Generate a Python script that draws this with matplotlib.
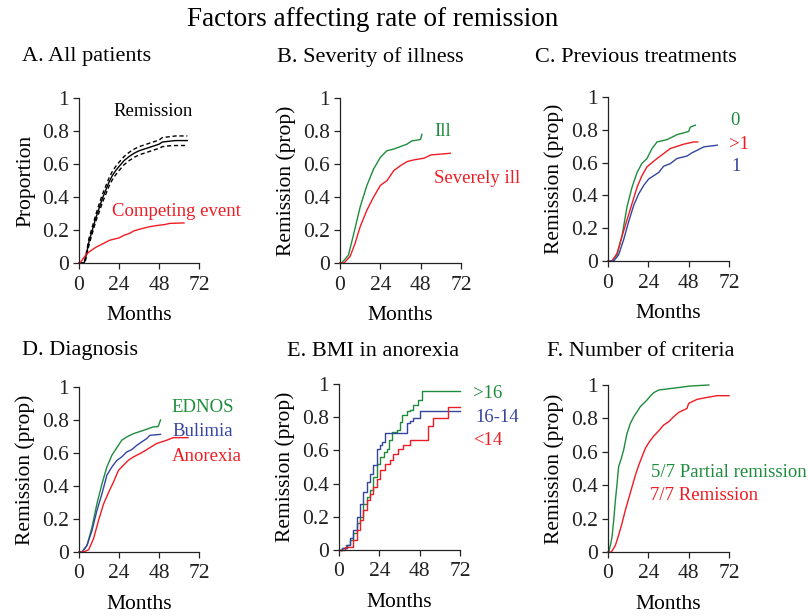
import matplotlib
matplotlib.use("Agg")
import matplotlib.pyplot as plt

plt.rcParams['font.family'] = ['Liberation Serif', 'DejaVu Serif']

GREEN = '#1e8c3c'
RED = '#ee1c24'
BLUE = '#34459e'
BLACK = '#000000'

# ---------------- data (months, cumulative proportion) ----------------
# A. All patients
a_rem_t = [0, 3, 4, 6, 8, 10, 12, 14, 16, 18, 20, 22, 24, 27, 30, 33, 36, 39, 42, 45, 48, 50, 54, 58, 65]
a_rem_y = [0, 0, 0.03, 0.13, 0.20, 0.27, 0.33, 0.39, 0.44, 0.49, 0.53, 0.56, 0.585, 0.62, 0.645, 0.665, 0.68, 0.69, 0.70, 0.71, 0.72, 0.733, 0.738, 0.742, 0.742]
a_up_y = [0, 0, 0.04, 0.15, 0.22, 0.29, 0.355, 0.415, 0.465, 0.515, 0.555, 0.585, 0.61, 0.645, 0.67, 0.69, 0.705, 0.715, 0.725, 0.735, 0.745, 0.76, 0.765, 0.77, 0.77]
a_lo_y = [0, 0, 0.02, 0.11, 0.18, 0.25, 0.305, 0.365, 0.415, 0.465, 0.505, 0.535, 0.56, 0.595, 0.62, 0.64, 0.655, 0.665, 0.675, 0.685, 0.695, 0.705, 0.71, 0.712, 0.712]
a_comp_t = [0, 1, 2.4, 4.8, 7.4, 10.4, 14, 18.4, 24, 27, 30.4, 33, 36.4, 42.4, 48, 51, 54.4, 63]
a_comp_y = [0, 0.005, 0.026, 0.057, 0.077, 0.097, 0.115, 0.138, 0.152, 0.168, 0.18, 0.195, 0.205, 0.22, 0.229, 0.232, 0.24, 0.243]

# B. Severity of illness
b_ill_t = [0, 1, 5, 8, 12, 16, 20, 24, 27.8, 31.8, 35.8, 39.8, 42.7, 46.7, 48, 48.7]
b_ill_y = [0, 0, 0.047, 0.17, 0.34, 0.47, 0.57, 0.64, 0.68, 0.69, 0.705, 0.72, 0.74, 0.746, 0.75, 0.78]
b_sev_t = [0, 2.4, 6, 9, 12, 16, 20, 24, 28, 32, 36, 40, 44, 50, 54, 60, 65.6]
b_sev_y = [0, 0, 0.04, 0.12, 0.22, 0.32, 0.40, 0.47, 0.50, 0.56, 0.59, 0.615, 0.625, 0.635, 0.655, 0.66, 0.665]

# C. Previous treatments
c_0_t = [0, 2.4, 5.4, 8.3, 11.3, 14.3, 17.3, 20.2, 23.2, 26.2, 29.2, 35.1, 41, 47, 48, 49, 52]
c_0_y = [0, 0, 0.04, 0.15, 0.33, 0.45, 0.54, 0.595, 0.625, 0.686, 0.726, 0.74, 0.77, 0.787, 0.79, 0.817, 0.828]
c_g1_t = [0, 2.4, 5.4, 8.3, 11.3, 14.3, 17.3, 20.2, 23.2, 26.2, 29.2, 33.1, 37.1, 45, 51, 53.4]
c_g1_y = [0, 0, 0.047, 0.15, 0.25, 0.35, 0.45, 0.52, 0.574, 0.60, 0.625, 0.655, 0.686, 0.712, 0.726, 0.726]
c_1_t = [0, 3.4, 6.3, 9.3, 12.3, 15.3, 18.3, 21.2, 24.2, 27.2, 30.2, 33.1, 37.1, 41, 47, 50, 53, 57, 65]
c_1_y = [0, 0, 0.037, 0.13, 0.24, 0.34, 0.41, 0.46, 0.50, 0.52, 0.54, 0.578, 0.594, 0.625, 0.64, 0.66, 0.675, 0.696, 0.706]

# D. Diagnosis
d_ed_t = [0, 1.8, 4.8, 7.8, 10.7, 13.7, 16.7, 19.7, 22.7, 25.6, 28.6, 32.6, 38.6, 44.5, 47.5, 48.2, 48.9]
d_ed_y = [0, 0, 0.04, 0.15, 0.29, 0.41, 0.515, 0.586, 0.632, 0.677, 0.697, 0.717, 0.737, 0.758, 0.76, 0.78, 0.80]
d_bu_t = [0, 1.8, 4.8, 7.8, 10.7, 13.7, 16.7, 19.7, 22.7, 25.6, 28.6, 31.6, 34.6, 37.6, 40.6, 42.5, 48.9]
d_bu_y = [0, 0, 0.04, 0.13, 0.25, 0.35, 0.465, 0.515, 0.555, 0.576, 0.606, 0.62, 0.646, 0.667, 0.687, 0.707, 0.713]
d_an_t = [0, 2.8, 5.8, 8.7, 11.7, 14.7, 17.7, 20.7, 23.7, 26.6, 29.6, 32.6, 36.6, 40.6, 46.5, 52.5, 56.5, 65.4]
d_an_y = [0, 0, 0.014, 0.08, 0.19, 0.29, 0.36, 0.424, 0.495, 0.525, 0.556, 0.576, 0.596, 0.62, 0.657, 0.677, 0.693, 0.693]

# E. BMI in anorexia (step functions)
e_g16_t = [0, 1.6, 4, 6.5, 8.5, 10.5, 12.5, 14.5, 16.5, 18.5, 20.5, 22.4, 24.4, 26.5, 28.4, 30, 31.3, 34.3, 36, 37.3, 40.3, 42.3, 44.2, 47.2, 49.2, 72]
e_g16_y = [0, 0.01, 0.03, 0.06, 0.10, 0.16, 0.20, 0.28, 0.32, 0.36, 0.44, 0.52, 0.56, 0.59, 0.61, 0.66, 0.71, 0.72, 0.77, 0.815, 0.835, 0.845, 0.875, 0.905, 0.955, 0.955]
e_mid_t = [0, 2, 4.6, 6.5, 8.5, 10.5, 12.5, 14.5, 16.5, 18.5, 20.4, 22.4, 24.4, 25.5, 27.4, 39.3, 40.3, 42.3, 44.2, 48.2, 72]
e_mid_y = [0, 0.01, 0.03, 0.07, 0.12, 0.20, 0.28, 0.35, 0.41, 0.46, 0.51, 0.607, 0.634, 0.65, 0.704, 0.704, 0.765, 0.775, 0.795, 0.84, 0.84]
e_l14_t = [0, 3.6, 8.5, 10.5, 12.5, 14.5, 16.5, 18.5, 20.4, 22.4, 24.4, 27.4, 30.4, 32.3, 35.3, 38.3, 42.3, 53.2, 56, 64.7, 72]
e_l14_y = [0, 0.016, 0.06, 0.12, 0.18, 0.24, 0.30, 0.34, 0.38, 0.43, 0.48, 0.52, 0.54, 0.58, 0.61, 0.634, 0.664, 0.744, 0.795, 0.86, 0.86]

# F. Number of criteria
f_part_t = [0, 0.4, 1.4, 2.4, 3.4, 4.4, 5.4, 6.3, 7.9, 9.3, 11.3, 13.3, 15.3, 17.3, 19.2, 21.2, 23.2, 25.2, 27.2, 30.2, 35, 43, 49, 60]
f_part_y = [0, 0, 0.04, 0.09, 0.19, 0.31, 0.41, 0.51, 0.56, 0.61, 0.71, 0.77, 0.81, 0.84, 0.87, 0.89, 0.91, 0.934, 0.954, 0.97, 0.976, 0.986, 0.994, 1.0]
f_full_t = [0, 2, 4.4, 6.3, 8.3, 10.3, 12.3, 14.3, 16.3, 18.3, 20.2, 22.2, 24.2, 27.2, 30.2, 33.1, 36.1, 39.1, 42.1, 45, 47, 48, 53, 59, 65, 72]
f_full_y = [0, 0, 0.04, 0.10, 0.17, 0.25, 0.32, 0.39, 0.46, 0.52, 0.57, 0.62, 0.654, 0.694, 0.726, 0.76, 0.78, 0.81, 0.836, 0.85, 0.86, 0.89, 0.914, 0.926, 0.936, 0.936]

xticks = [0, 24, 48, 72]
yticks = [0, 0.2, 0.4, 0.6, 0.8, 1]
ytick_labels = ['0', '0.2', '0.4', '0.6', '0.8', '1']

W, H = 809, 616
fig = plt.figure(figsize=(W / 100, H / 100), dpi=100)

TICK_FS = 15.5
LABEL_FS = 15.5
ANN_FS = 13.5


def make_ax(x0, x1, ytop, ybot, ylabel):
    ax = fig.add_axes([x0 / W, 1 - ybot / H, (x1 - x0) / W, (ybot - ytop) / H])
    ax.set_xlim(0, 72)
    ax.set_ylim(0, 1)
    for s in ['top', 'right']:
        ax.spines[s].set_visible(False)
    for s in ['left', 'bottom']:
        ax.spines[s].set_linewidth(0.9)
        ax.spines[s].set_color('#222222')
    ax.set_xticks(xticks)
    ax.set_yticks(yticks)
    ax.set_yticklabels(ytick_labels)
    ax.tick_params(direction='out', length=4, width=0.9, labelsize=TICK_FS, colors='#222222')
    ax.tick_params(axis='x', pad=5)
    ax.tick_params(axis='y', pad=3)
    ax.set_xlabel('Months', fontsize=LABEL_FS, labelpad=8)
    ax.set_ylabel(ylabel, fontsize=LABEL_FS, labelpad=5)
    return ax


def line(ax, t, y, color, ls='-', lw=1.0):
    ax.plot(t, y, color=color, linestyle=ls, linewidth=lw, clip_on=False)


def stp(ax, t, y, color, lw=1.0):
    ax.step(t, y, where='post', color=color, linewidth=lw, clip_on=False)


# Panel A
axA = make_ax(79, 199, 98, 263, 'Proportion')
line(axA, a_rem_t, a_rem_y, BLACK)
line(axA, a_rem_t, a_up_y, BLACK, ls=(0, (3, 2)))
line(axA, a_rem_t, a_lo_y, BLACK, ls=(0, (3, 2)))
line(axA, a_comp_t, a_comp_y, RED)
axA.text(44.5, 0.92, 'Remission', color=BLACK, fontsize=ANN_FS, ha='center', va='center')
axA.text(20, 0.31, 'Competing event', color=RED, fontsize=ANN_FS, ha='left', va='center')

# Panel B
axB = make_ax(340, 461, 98, 263, 'Remission (prop)')
line(axB, b_ill_t, b_ill_y, GREEN)
line(axB, b_sev_t, b_sev_y, RED)
axB.text(56, 0.80, 'Ill', color=GREEN, fontsize=ANN_FS, ha='left', va='center')
axB.text(56, 0.51, 'Severely ill', color=RED, fontsize=ANN_FS, ha='left', va='center')

# Panel C
axC = make_ax(608, 729, 97, 261, 'Remission (prop)')
line(axC, c_0_t, c_0_y, GREEN)
line(axC, c_g1_t, c_g1_y, RED)
line(axC, c_1_t, c_1_y, BLUE)
axC.text(72.5, 0.855, '0', color=GREEN, fontsize=ANN_FS, ha='left', va='center')
axC.text(72, 0.71, '>1', color=RED, fontsize=ANN_FS, ha='left', va='center')
axC.text(73.5, 0.575, '1', color=BLUE, fontsize=ANN_FS, ha='left', va='center')

# Panel D
axD = make_ax(79, 199, 387, 552, 'Remission (prop)')
line(axD, d_ed_t, d_ed_y, GREEN)
line(axD, d_bu_t, d_bu_y, BLUE)
line(axD, d_an_t, d_an_y, RED)
axD.text(55.7, 0.875, 'EDNOS', color=GREEN, fontsize=ANN_FS, ha='left', va='center')
axD.text(56, 0.73, 'Bulimia', color=BLUE, fontsize=ANN_FS, ha='left', va='center')
axD.text(55.7, 0.58, 'Anorexia', color=RED, fontsize=ANN_FS, ha='left', va='center')

# Panel E
axE = make_ax(339, 460, 384, 550, 'Remission (prop)')
stp(axE, e_g16_t, e_g16_y, GREEN)
stp(axE, e_mid_t, e_mid_y, BLUE)
stp(axE, e_l14_t, e_l14_y, RED)
axE.text(80, 0.945, '>16', color=GREEN, fontsize=ANN_FS, ha='left', va='center')
axE.text(81, 0.80, '16-14', color=BLUE, fontsize=ANN_FS, ha='left', va='center')
axE.text(80, 0.66, '<14', color=RED, fontsize=ANN_FS, ha='left', va='center')

# Panel F
axF = make_ax(608, 729, 385, 552, 'Remission (prop)')
line(axF, f_part_t, f_part_y, GREEN)
line(axF, f_full_t, f_full_y, RED)
axF.text(25.8, 0.476, '5/7 Partial remission', color=GREEN, fontsize=ANN_FS, ha='left', va='center')
axF.text(25.2, 0.336, '7/7 Remission', color=RED, fontsize=ANN_FS, ha='left', va='center')

# Titles
fig.text(373 / W, 1 - 19 / H, 'Factors affecting rate of remission', fontsize=19.5, ha='center', va='center')
panel_titles = [('A. All patients', 22, 57), ('B. Severity of illness', 277, 57), ('C. Previous treatments', 535, 57),
                ('D. Diagnosis', 22, 351), ('E. BMI in anorexia', 287, 351), ('F. Number of criteria', 547, 351)]
for txt, px, py in panel_titles:
    fig.text(px / W, 1 - py / H, txt, fontsize=16, ha='left', va='center')

fig.savefig('out.png', dpi=100)
